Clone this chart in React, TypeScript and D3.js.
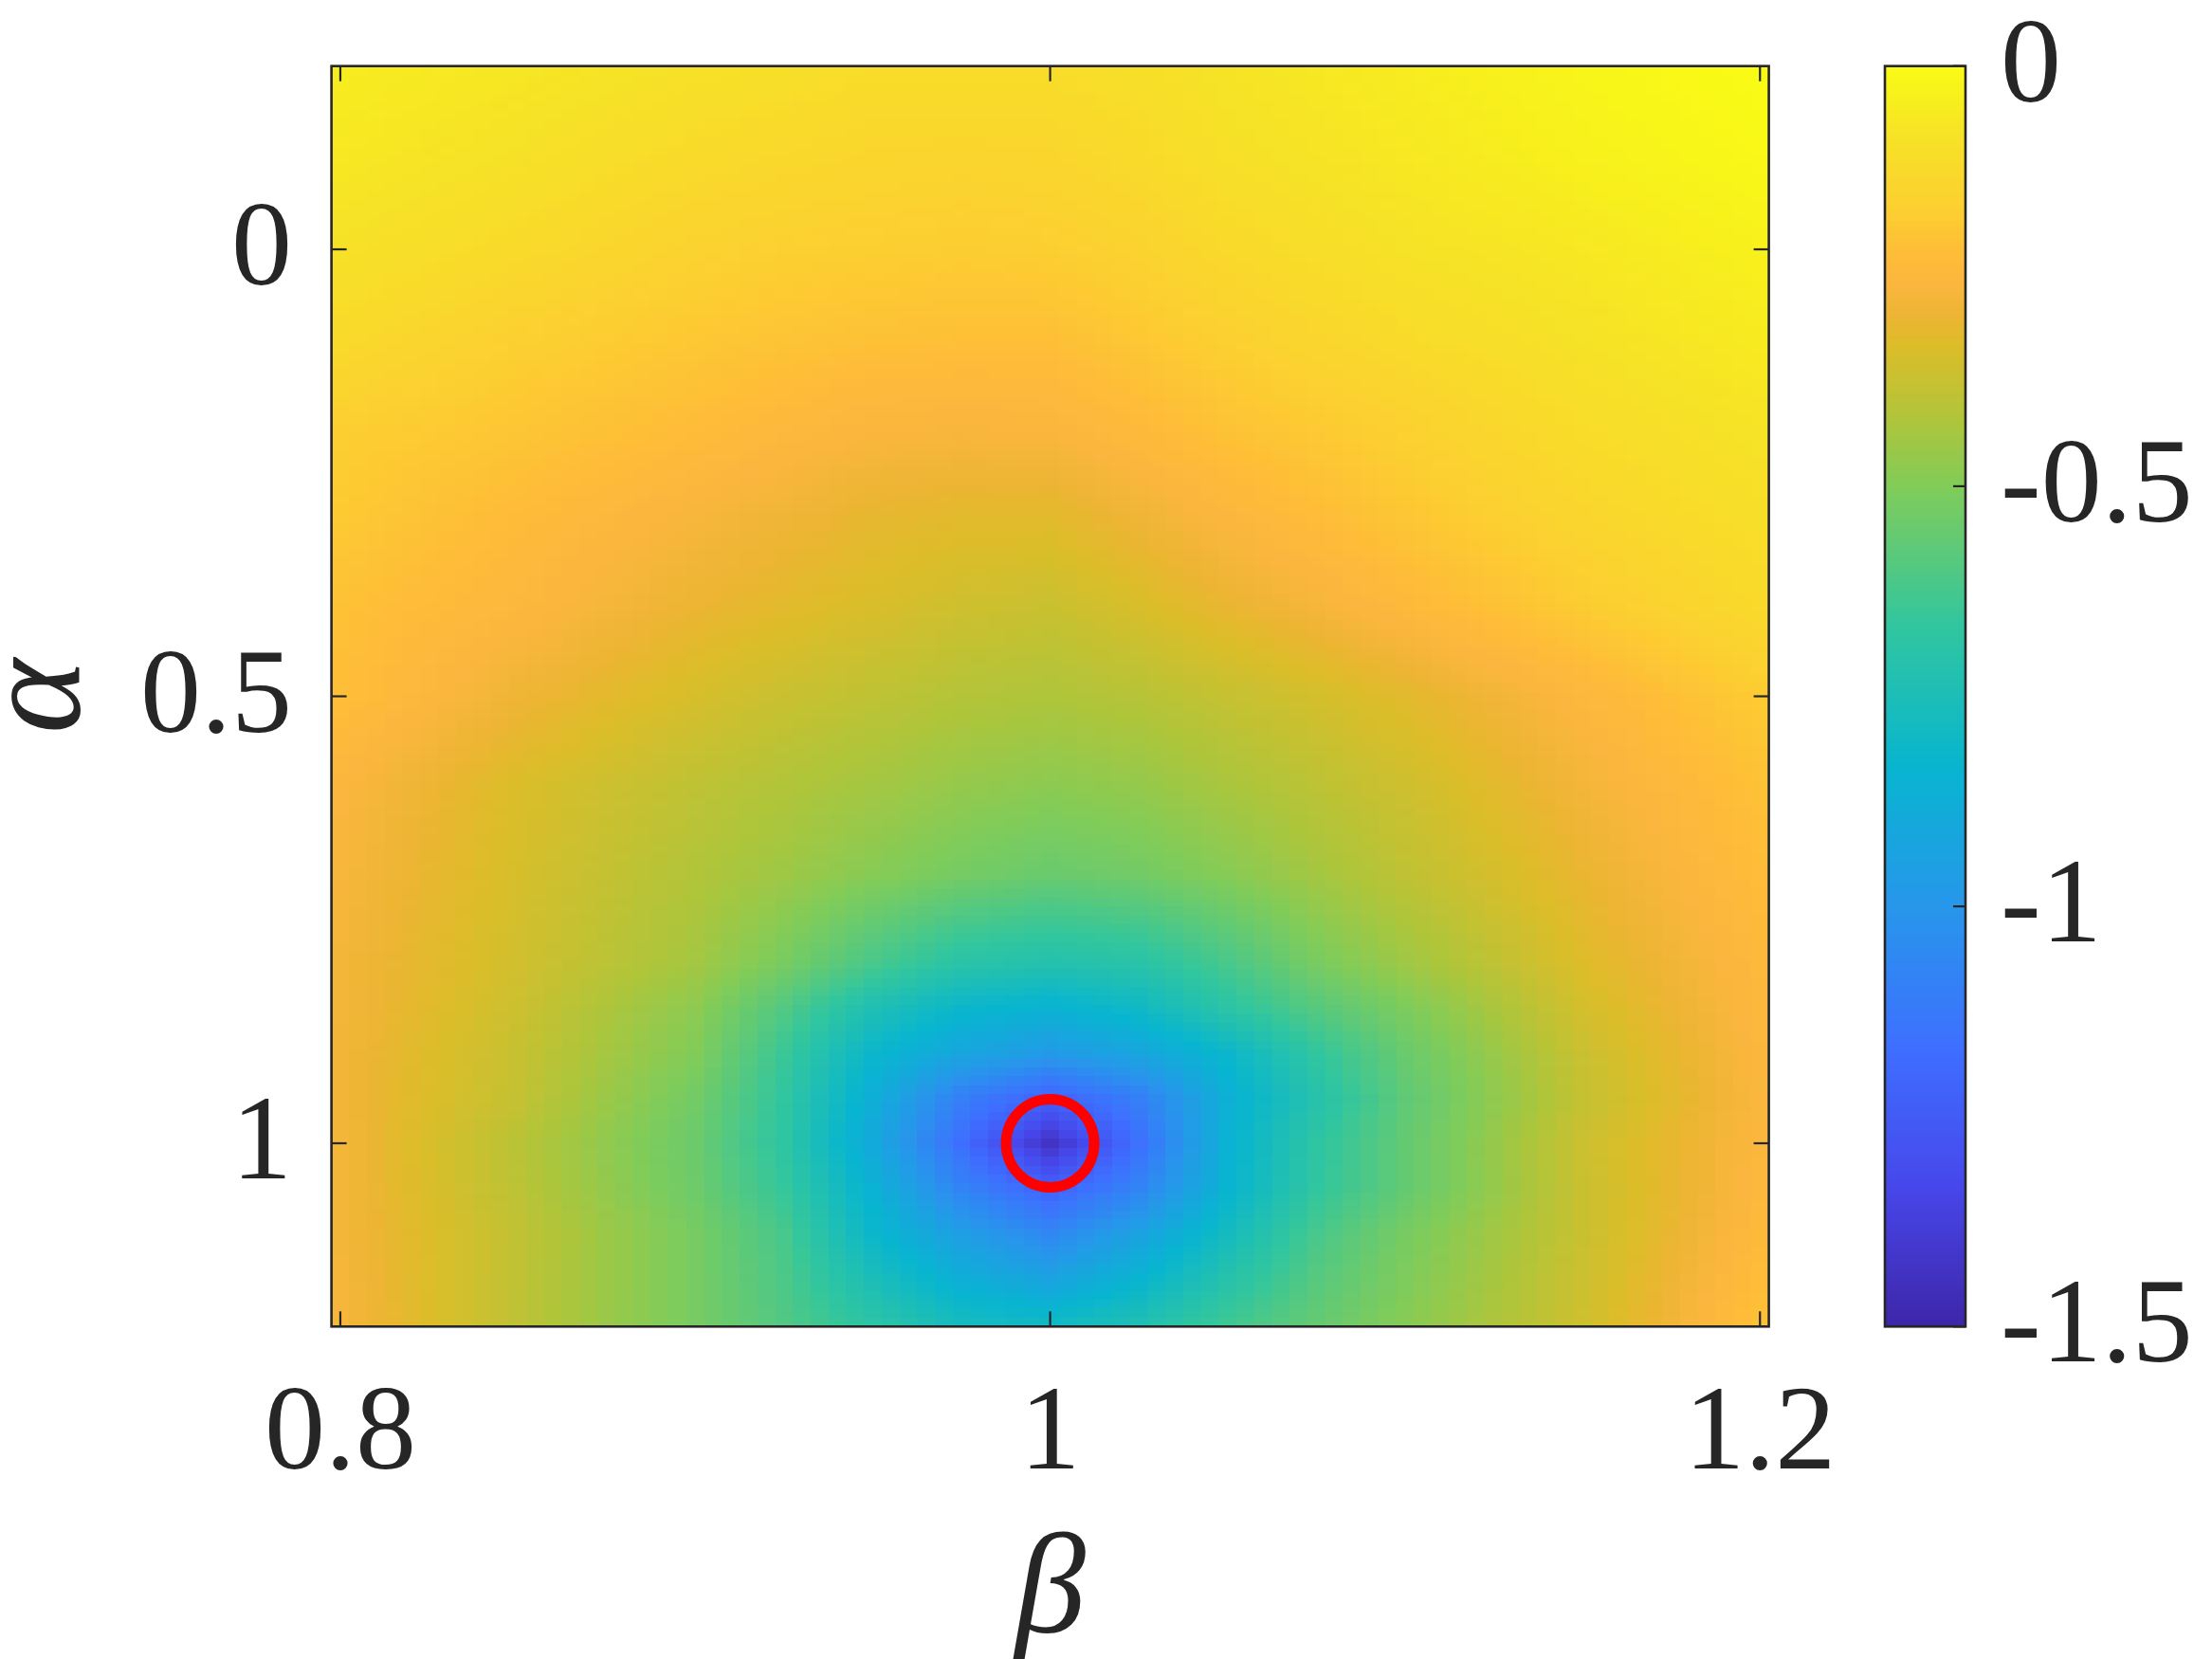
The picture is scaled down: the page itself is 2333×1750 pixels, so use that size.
import React, { useMemo } from 'react';
import * as d3 from 'd3';

const BETA = [0.8, 0.85, 0.9, 0.925, 0.95, 0.975, 1.0, 1.025, 1.05, 1.075, 1.1, 1.15, 1.2];
const ALPHA = [-0.2, -0.1, 0, 0.1, 0.2, 0.3, 0.4, 0.5, 0.6, 0.7, 0.8, 0.85, 0.9, 0.95, 1.0, 1.05, 1.1, 1.2];

const ROW_M020 = [-0.05, -0.07, -0.09, -0.1, -0.11, -0.11, -0.11, -0.1, -0.08, -0.065, -0.05, -0.02, 0];
const ROW_M010 = [-0.065, -0.09, -0.12, -0.13, -0.14, -0.145, -0.14, -0.12, -0.095, -0.08, -0.065, -0.035, -0.012];
const ROW_000 = [-0.09, -0.12, -0.155, -0.165, -0.17, -0.175, -0.17, -0.155, -0.125, -0.105, -0.085, -0.065, -0.035];
const ROW_010 = [-0.12, -0.165, -0.19, -0.2, -0.21, -0.215, -0.215, -0.19, -0.165, -0.14, -0.115, -0.085, -0.055];
const ROW_020 = [-0.17, -0.195, -0.225, -0.245, -0.26, -0.265, -0.26, -0.235, -0.205, -0.185, -0.16, -0.11, -0.08];
const ROW_030 = [-0.185, -0.23, -0.27, -0.29, -0.31, -0.32, -0.32, -0.29, -0.255, -0.225, -0.195, -0.14, -0.1];
const ROW_040 = [-0.21, -0.25, -0.3, -0.32, -0.34, -0.36, -0.37, -0.34, -0.305, -0.275, -0.24, -0.18, -0.125];
const ROW_050 = [-0.22, -0.29, -0.345, -0.37, -0.39, -0.41, -0.42, -0.405, -0.378, -0.35, -0.32, -0.25, -0.18];
const ROW_060 = [-0.26, -0.335, -0.39, -0.415, -0.44, -0.465, -0.48, -0.465, -0.43, -0.395, -0.36, -0.28, -0.21];
const ROW_070 = [-0.27, -0.345, -0.415, -0.45, -0.49, -0.525, -0.55, -0.53, -0.49, -0.44, -0.39, -0.305, -0.225];
const ROW_080 = [-0.28, -0.355, -0.44, -0.52, -0.62, -0.7, -0.72, -0.7, -0.62, -0.52, -0.45, -0.33, -0.245];
const ROW_085 = [-0.28, -0.365, -0.48, -0.6, -0.74, -0.82, -0.85, -0.8, -0.69, -0.59, -0.51, -0.35, -0.25];
const ROW_090 = [-0.285, -0.375, -0.5, -0.65, -0.82, -0.92, -0.98, -0.92, -0.82, -0.67, -0.55, -0.37, -0.255];
const ROW_095 = [-0.285, -0.38, -0.53, -0.67, -0.87, -1.1, -1.22, -1.1, -0.86, -0.71, -0.57, -0.38, -0.26];
const ROW_100 = [-0.28, -0.4, -0.545, -0.68, -0.9, -1.17, -1.43, -1.16, -0.85, -0.68, -0.56, -0.365, -0.255];
const ROW_105 = [-0.28, -0.395, -0.54, -0.66, -0.85, -1.08, -1.22, -1.08, -0.84, -0.67, -0.56, -0.37, -0.25];
const ROW_110 = [-0.28, -0.385, -0.52, -0.62, -0.82, -0.96, -1.07, -0.94, -0.78, -0.62, -0.52, -0.37, -0.24];
const ROW_120 = [-0.27, -0.39, -0.52, -0.6, -0.69, -0.78, -0.8, -0.74, -0.64, -0.56, -0.49, -0.36, -0.21];

const GRID = [ROW_M020, ROW_M010, ROW_000, ROW_010, ROW_020, ROW_030, ROW_040, ROW_050, ROW_060,
  ROW_070, ROW_080, ROW_085, ROW_090, ROW_095, ROW_100, ROW_105, ROW_110, ROW_120];

// image raster of the original figure (cell centres)
const BETA_STEP = 0.005;
const ALPHA_STEP = 0.01;
const BETA_RANGE = [0.8, 1.2];
const ALPHA_RANGE = [-0.2, 1.2];

const X_TICKS = [0.8, 1, 1.2];
const X_TICK_LABELS = ['0.8', '1', '1.2'];
const Y_TICKS = [0, 0.5, 1];
const Y_TICK_LABELS = ['0', '0.5', '1'];
const CB_TICKS = [0, -0.5, -1, -1.5];
const CB_TICK_LABELS = ['0', '-0.5', '-1', '-1.5'];
const C_RANGE = [-1.5, 0];
const MARKER = { beta: 1, alpha: 1 };

// parula colormap anchors
const PARULA_T = [0, 0.111, 0.222, 0.333, 0.444, 0.556, 0.667, 0.72, 0.778, 0.8, 0.825, 0.85, 0.889, 0.944, 1];
const PARULA_C = ['#3e26a8', '#4747eb', '#3e6fff', '#2796eb', '#08b5d0', '#31c69f', '#81cc59', '#afc53a',
  '#dcbd29', '#ecb532', '#fab63e', '#febc38', '#fcd030', '#f6e226', '#f9fb15'];

const W = 2333, H = 1750;
const FONT = "'Liberation Serif', 'DejaVu Serif', serif";
const INK = '#262626';

function bilinear(b: number, a: number): number {
  let i = d3.bisectRight(BETA, b) - 1;
  i = Math.max(0, Math.min(BETA.length - 2, i));
  let j = d3.bisectRight(ALPHA, a) - 1;
  j = Math.max(0, Math.min(ALPHA.length - 2, j));
  const tb = Math.max(0, Math.min(1, (b - BETA[i]) / (BETA[i + 1] - BETA[i])));
  const ta = Math.max(0, Math.min(1, (a - ALPHA[j]) / (ALPHA[j + 1] - ALPHA[j])));
  const v00 = GRID[j][i], v01 = GRID[j][i + 1], v10 = GRID[j + 1][i], v11 = GRID[j + 1][i + 1];
  return (1 - ta) * ((1 - tb) * v00 + tb * v01) + ta * ((1 - tb) * v10 + tb * v11);
}

export default function App() {
  const x = d3.scaleLinear().domain([BETA_RANGE[0] - BETA_STEP / 2, BETA_RANGE[1] + BETA_STEP / 2]).range([349.6, 1865.6]);
  const y = d3.scaleLinear().domain([ALPHA_RANGE[0] - ALPHA_STEP / 2, ALPHA_RANGE[1] + ALPHA_STEP / 2]).range([69.7, 1399.3]);
  const cNorm = d3.scaleLinear().domain(C_RANGE).range([0, 1]).clamp(true);
  const cmap = d3.scaleLinear<string>().domain(PARULA_T).range(PARULA_C).interpolate(d3.interpolateRgb);
  const color = (v: number) => cmap(cNorm(v));
  const cbY = d3.scaleLinear().domain(C_RANGE).range([1399.3, 69.7]);
  const cbX0 = 1988, cbX1 = 2073;

  const cells = useMemo(() => {
    const out: { b: number; a: number; v: number }[] = [];
    const nb = Math.round((BETA_RANGE[1] - BETA_RANGE[0]) / BETA_STEP);
    const na = Math.round((ALPHA_RANGE[1] - ALPHA_RANGE[0]) / ALPHA_STEP);
    for (let j = 0; j <= na; j++) {
      const a = ALPHA_RANGE[0] + j * ALPHA_STEP;
      for (let i = 0; i <= nb; i++) {
        const b = BETA_RANGE[0] + i * BETA_STEP;
        out.push({ b, a, v: bilinear(b, a) });
      }
    }
    return out;
  }, []);

  const cbSlices = d3.range(0, 300).map((k) => {
    const v0 = C_RANGE[0] + (k / 300) * (C_RANGE[1] - C_RANGE[0]);
    const v1 = C_RANGE[0] + ((k + 1) / 300) * (C_RANGE[1] - C_RANGE[0]);
    return { v0, v1 };
  });

  const L = x.range()[0], R = x.range()[1], T = y.range()[0], B = y.range()[1];
  const tickLen = 16;
  const fs = 128;

  return (
    <svg width={W} height={H} style={{ position: 'absolute', left: 0, top: 0, background: '#fff' }}
      xmlns="http://www.w3.org/2000/svg">
      <rect x={0} y={0} width={W} height={H} fill="#fff" />
      <g shapeRendering="crispEdges">
        {cells.map((c, k) => (
          <rect key={k} x={x(c.b - BETA_STEP / 2)} y={y(c.a - ALPHA_STEP / 2)}
            width={x(c.b + BETA_STEP / 2) - x(c.b - BETA_STEP / 2) + 0.5}
            height={y(c.a + ALPHA_STEP / 2) - y(c.a - ALPHA_STEP / 2) + 0.5}
            fill={color(c.v)} />
        ))}
      </g>
      {/* ticks */}
      <g stroke={INK} strokeWidth={2.2}>
        {X_TICKS.map((t) => (
          <g key={'xt' + t}>
            <line x1={x(t)} x2={x(t)} y1={B} y2={B - tickLen} />
            <line x1={x(t)} x2={x(t)} y1={T} y2={T + tickLen} />
          </g>
        ))}
        {Y_TICKS.map((t) => (
          <g key={'yt' + t}>
            <line x1={L} x2={L + tickLen} y1={y(t)} y2={y(t)} />
            <line x1={R} x2={R - tickLen} y1={y(t)} y2={y(t)} />
          </g>
        ))}
      </g>
      <rect x={L} y={T} width={R - L} height={B - T} fill="none" stroke={INK} strokeWidth={2.6} />
      {/* marker */}
      <circle cx={x(MARKER.beta)} cy={y(MARKER.alpha)} r={46.5} fill="none" stroke="#ff0000" strokeWidth={11} />
      {/* tick labels */}
      <g fontFamily={FONT} fontSize={fs} fill={INK}>
        {X_TICKS.map((t, i) => (
          <text key={'xl' + t} x={x(t)} y={1549} textAnchor="middle">{X_TICK_LABELS[i]}</text>
        ))}
        {Y_TICKS.map((t, i) => (
          <text key={'yl' + t} x={308} y={y(t) + 0.29 * fs} textAnchor="end">{Y_TICK_LABELS[i]}</text>
        ))}
        {CB_TICKS.map((t, i) => (
          <text key={'cl' + t} x={2110} y={cbY(t) + 0.29 * fs} textAnchor="start">{CB_TICK_LABELS[i]}</text>
        ))}
      </g>
      {/* axis labels */}
      <text x={(L + R) / 2} y={1722} textAnchor="middle" fontFamily={FONT} fontStyle="italic" fontSize={150} fill={INK}>β</text>
      <text transform={`translate(84, ${(T + B) / 2}) rotate(-90)`} textAnchor="middle" fontFamily={FONT}
        fontStyle="italic" fontSize={150} fill={INK}>α</text>
      {/* colorbar */}
      <g shapeRendering="crispEdges">
        {cbSlices.map((s, k) => (
          <rect key={k} x={cbX0} width={cbX1 - cbX0} y={cbY(s.v1)} height={cbY(s.v0) - cbY(s.v1) + 0.6}
            fill={color((s.v0 + s.v1) / 2)} />
        ))}
      </g>
      <g stroke={INK} strokeWidth={2.2}>
        {CB_TICKS.map((t) => (
          <line key={'ct' + t} x1={cbX1} x2={cbX1 - 13} y1={cbY(t)} y2={cbY(t)} />
        ))}
      </g>
      <rect x={cbX0} y={cbY(0)} width={cbX1 - cbX0} height={cbY(-1.5) - cbY(0)} fill="none" stroke={INK} strokeWidth={2.6} />
    </svg>
  );
}
